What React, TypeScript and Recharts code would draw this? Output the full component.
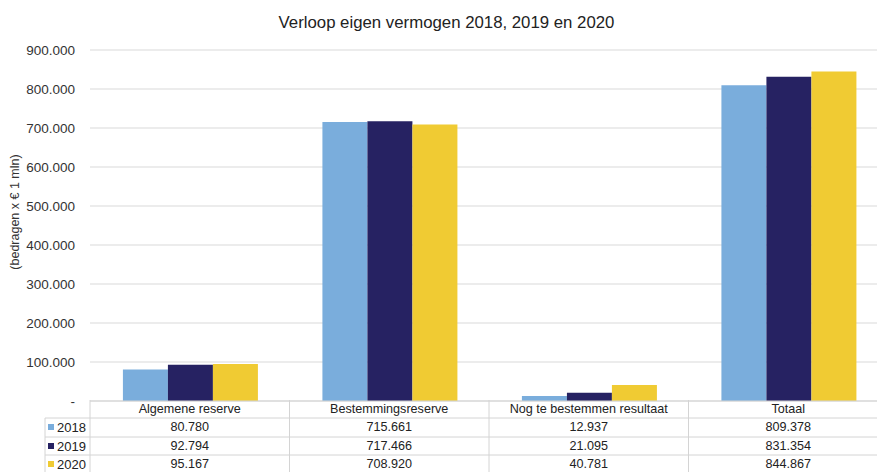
import React from "react";
import { BarChart, Bar, XAxis, YAxis, CartesianGrid } from "recharts";

const categories = [
  "Algemene reserve",
  "Bestemmingsreserve",
  "Nog te bestemmen resultaat",
  "Totaal",
];
const years = ["2018", "2019", "2020"];
const values2018 = [80780, 715661, 12937, 809378];
const values2019 = [92794, 717466, 21095, 831354];
const values2020 = [95167, 708920, 40781, 844867];
const yTicks = [0, 100000, 200000, 300000, 400000, 500000, 600000, 700000, 800000, 900000];

const colors = ["#7aaddc", "#262262", "#f0cb33"];
const series = [values2018, values2019, values2020];

const data = categories.map((name, i) => ({
  name,
  v2018: values2018[i],
  v2019: values2019[i],
  v2020: values2020[i],
}));

const fmt = (n: number) =>
  n === 0 ? "-" : String(n).replace(/\B(?=(\d{3})+(?!\d))/g, ".");

const W = 888;
const LEFT = 90;
const BAND = (W - LEFT) / categories.length;
const TOP_ROW = 400;
const ROW_LINES = [418, 437, 455];
const ROW_TEXT = [427, 446, 464];
const LINE = "#d4d4d4";
const FONT = "Arial, 'Liberation Sans', sans-serif";

function TableTick(props: any) {
  const { x, index, payload } = props;
  const x0 = x - BAND / 2;
  return (
    <g fontFamily={FONT} fontSize={12.6} fill="#222">
      <line x1={x0} y1={TOP_ROW} x2={x0} y2={472} stroke={LINE} />
      {ROW_LINES.map((ly) => (
        <line key={ly} x1={x0} y1={ly} x2={x0 + BAND} y2={ly} stroke={LINE} />
      ))}
      <text x={x} y={409} textAnchor="middle" dominantBaseline="central" fill="#222">
        {payload.value}
      </text>
      {series.map((s, r) => (
        <text
          key={r}
          x={x}
          y={ROW_TEXT[r]}
          textAnchor="middle"
          dominantBaseline="central"
          fill="#222"
        >
          {fmt(s[index])}
        </text>
      ))}
      {index === 0 && (
        <g>
          <line x1={45} y1={ROW_LINES[0]} x2={45} y2={472} stroke={LINE} />
          {ROW_LINES.map((ly) => (
            <line key={ly} x1={45} y1={ly} x2={x0} y2={ly} stroke={LINE} />
          ))}
          {years.map((yr, r) => (
            <g key={yr}>
              <rect x={48} y={ROW_TEXT[r] - 3} width={6} height={6} fill={colors[r]} />
              <text x={57} y={ROW_TEXT[r]} dominantBaseline="central" fill="#222" fontSize={13}>
                {yr}
              </text>
            </g>
          ))}
        </g>
      )}
    </g>
  );
}

const YLabel = () => (
  <text
    x={15}
    y={212}
    transform="rotate(-90 15 212)"
    textAnchor="middle"
    dominantBaseline="central"
    fontFamily={FONT}
    fontSize={12.5}
    fill="#333"
  >
    (bedragen x € 1 mln)
  </text>
);

export default function App() {
  return (
    <div
      style={{
        position: "absolute",
        left: 0,
        top: 0,
        width: 877,
        height: 472,
        overflow: "hidden",
        background: "#fff",
      }}
    >
      <div
        style={{
          position: "absolute",
          left: 0,
          top: 13,
          width: 893,
          textAlign: "center",
          fontFamily: FONT,
          fontSize: 16.8,
          color: "#222",
        }}
      >
        Verloop eigen vermogen 2018, 2019 en 2020
      </div>
      <BarChart
        width={W}
        height={472}
        data={data}
        margin={{ top: 50, right: 0, bottom: 0, left: 0 }}
        barCategoryGap="16.5%"
        barGap={0}
        style={{ position: "absolute", left: 0, top: 0 }}
      >
        <CartesianGrid vertical={false} stroke="#d9d9d9" />
        <XAxis
          dataKey="name"
          height={71}
          interval={0}
          tickLine={false}
          axisLine={{ stroke: LINE }}
          tick={<TableTick />}
        />
        <YAxis
          width={LEFT}
          domain={[0, 900000]}
          ticks={yTicks}
          interval={0}
          axisLine={false}
          tickLine={false}
          tickSize={0}
          tickMargin={15}
          tickFormatter={fmt}
          tick={{ fontFamily: FONT, fontSize: 13.5, fill: "#333" }}
          label={<YLabel />}
        />
        <Bar dataKey="v2018" fill={colors[0]} isAnimationActive={false} />
        <Bar dataKey="v2019" fill={colors[1]} isAnimationActive={false} />
        <Bar dataKey="v2020" fill={colors[2]} isAnimationActive={false} />
      </BarChart>
    </div>
  );
}
